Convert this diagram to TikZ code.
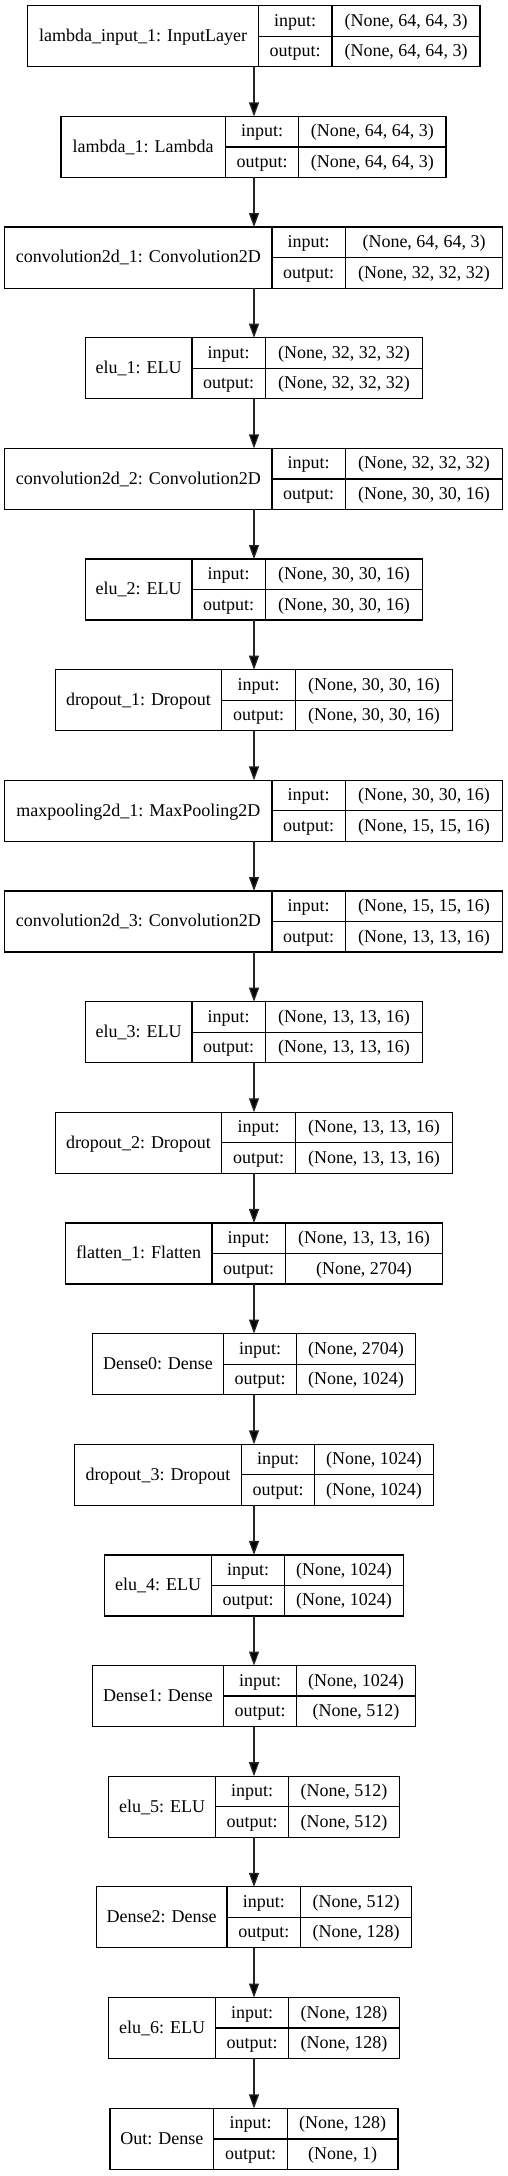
\documentclass[tikz,border=0pt]{standalone}
\usepackage{fontspec}
\setmainfont{Liberation Serif}
\usetikzlibrary{arrows.meta}
\tikzset{
  box/.style={draw=black, line width=1.2bp, rectangle, minimum height=61bp, inner sep=0pt, outer sep=0pt},
  div/.style={draw=black, line width=1.2bp},
  txt/.style={anchor=base, inner sep=0pt, font=\fontsize{18bp}{22bp}\selectfont},
  arr/.style={draw=black!85, line width=1.3bp, -{Triangle[length=14bp,width=10bp,fill=black]}},
}
\newcommand\klayer[9]{%
  \node[box, minimum width={(#6-#3)*1bp}, anchor=north west] (#1) at (#3,#2) {};
  \draw[div] (#4,#2) -- (#4,{#2+61}) (#5,#2) -- (#5,{#2+61}) (#4,{#2+30.5}) -- (#6,{#2+30.5});
  \node[txt] (#1-lab) at ({(#3+#4)/2},{#2+35.8}) {#7};
  \node[txt] (#1-in) at ({(#4+#5)/2},{#2+20.55}) {input:};
  \node[txt] (#1-out) at ({(#4+#5)/2},{#2+51.05}) {output:};
  \node[txt] (#1-iv) at ({(#5+#6)/2},{#2+20.55}) {#8};
  \node[txt] (#1-ov) at ({(#5+#6)/2},{#2+51.05}) {#9};
}
\begin{document}
\begin{tikzpicture}[x=1bp,y=-1bp]
\fill[white] (0,0) rectangle (508,2176);
\useasboundingbox (0,0) rectangle (508,2176);
\coordinate (axis) at (254,0);
\klayer{L1}{5.8}{27.7}{258.3}{332}{480}{lambda\_input\_1: InputLayer}{(None, 64, 64, 3)}{(None, 64, 64, 3)}
\klayer{L2}{116.45}{61}{225.3}{298.7}{446}{lambda\_1: Lambda}{(None, 64, 64, 3)}{(None, 64, 64, 3)}
\klayer{L3}{227.1}{4.7}{272}{345.3}{502.7}{convolution2d\_1: Convolution2D}{(None, 64, 64, 3)}{(None, 32, 32, 32)}
\klayer{L4}{337.75}{85.3}{192}{265.3}{422.7}{elu\_1: ELU}{(None, 32, 32, 32)}{(None, 32, 32, 32)}
\klayer{L5}{448.4}{4.7}{272}{345.3}{502.7}{convolution2d\_2: Convolution2D}{(None, 32, 32, 32)}{(None, 30, 30, 16)}
\klayer{L6}{559.05}{85.3}{192}{265.3}{422.7}{elu\_2: ELU}{(None, 30, 30, 16)}{(None, 30, 30, 16)}
\klayer{L7}{669.7}{55.3}{221.7}{295.3}{452.7}{dropout\_1: Dropout}{(None, 30, 30, 16)}{(None, 30, 30, 16)}
\klayer{L8}{780.35}{4.7}{272}{345.3}{502.7}{maxpooling2d\_1: MaxPooling2D}{(None, 30, 30, 16)}{(None, 15, 15, 16)}
\klayer{L9}{891}{4.7}{272}{345.3}{502.7}{convolution2d\_3: Convolution2D}{(None, 15, 15, 16)}{(None, 13, 13, 16)}
\klayer{L10}{1001.65}{85.3}{192}{265.3}{422.7}{elu\_3: ELU}{(None, 13, 13, 16)}{(None, 13, 13, 16)}
\klayer{L11}{1112.3}{55.3}{221.7}{295.3}{452.7}{dropout\_2: Dropout}{(None, 13, 13, 16)}{(None, 13, 13, 16)}
\klayer{L12}{1222.95}{65.3}{212}{285.3}{442.7}{flatten\_1: Flatten}{(None, 13, 13, 16)}{(None, 2704)}
\klayer{L13}{1333.6}{92.7}{223.3}{296.7}{415.3}{Dense0: Dense}{(None, 2704)}{(None, 1024)}
\klayer{L14}{1444.25}{74.7}{241.3}{314.7}{433.3}{dropout\_3: Dropout}{(None, 1024)}{(None, 1024)}
\klayer{L15}{1554.9}{104.7}{211.3}{284.7}{403.3}{elu\_4: ELU}{(None, 1024)}{(None, 1024)}
\klayer{L16}{1665.55}{92.7}{223.3}{296.7}{415.3}{Dense1: Dense}{(None, 1024)}{(None, 512)}
\klayer{L17}{1776.2}{108.7}{215.3}{288.7}{399.3}{elu\_5: ELU}{(None, 512)}{(None, 512)}
\klayer{L18}{1886.85}{96.3}{227}{300.7}{411.7}{Dense2: Dense}{(None, 512)}{(None, 128)}
\klayer{L19}{1997.5}{108.7}{215.3}{288.7}{399.3}{elu\_6: ELU}{(None, 128)}{(None, 128)}
\klayer{L20}{2108.4}{110}{213.7}{287.3}{398}{Out: Dense}{(None, 128)}{(None, 1)}
\foreach \a/\b in {L1/L2,L2/L3,L3/L4,L4/L5,L5/L6,L6/L7,L7/L8,L8/L9,L9/L10,L10/L11,L11/L12,L12/L13,L13/L14,L14/L15,L15/L16,L16/L17,L17/L18,L18/L19,L19/L20}
  \draw[arr] (axis |- \a.south) -- (axis |- \b.north);
\end{tikzpicture}
\end{document}
